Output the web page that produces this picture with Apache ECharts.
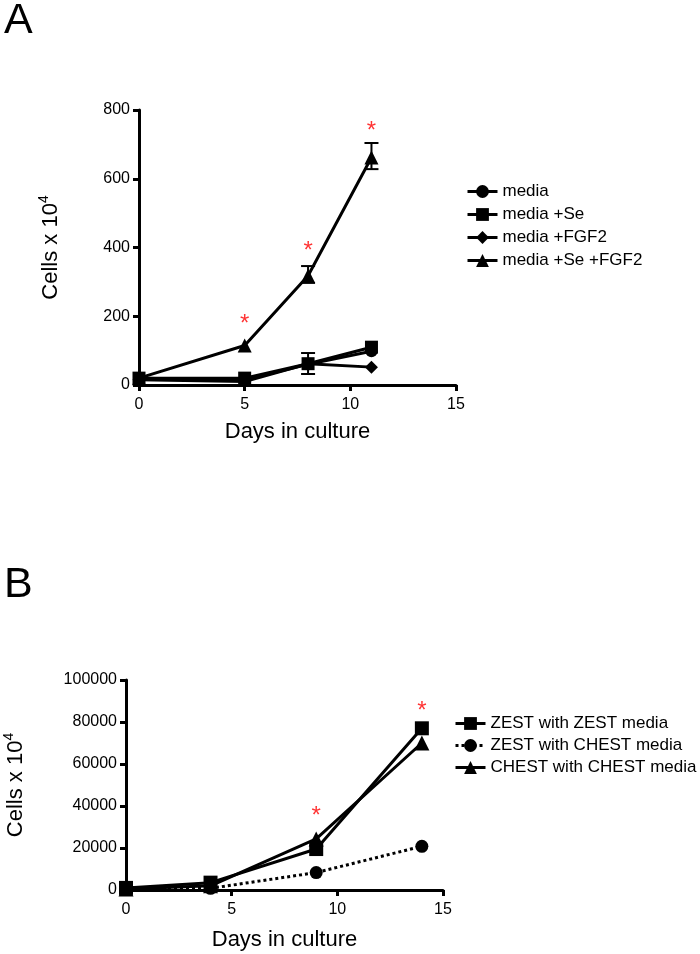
<!DOCTYPE html>
<html>
<head>
<meta charset="utf-8">
<script src="https://cdn.jsdelivr.net/npm/echarts@6/dist/echarts.min.js"></script>
<style>
  html, body { margin: 0; padding: 0; background: #fff; }
  #chart { width: 700px; height: 954px; }
</style>
</head>
<body>
<div id="chart"></div>
<script>
// panel A: days in culture, cells x 10^4
const daysA = [0, 5, 8, 11]
const media = [20, 15, 60, 98]
const mediaSe = [20, 20, 62, 110]
const mediaFgf = [15, 10, 62, 52]
const mediaSeFgf = [20, 115, 318, 662]
// error bars [day, low, high]
const errA = [[8, 297, 346], [11, 628, 704], [8, 32, 93]]
// significance stars [day, value]
const starsA = [[5, 195], [8, 407], [11, 756]]

// panel B
const daysB = [0, 4, 9, 14]
const zestZest = [1000, 3500, 19500, 77000]
const zestChest = [500, 800, 8300, 20800]
const chestChest = [500, 2000, 24300, 70000]
const starsB = [[9, 38000], [14, 88000]]

const namesA = ['media', 'media +Se', 'media +FGF2', 'media +Se +FGF2']
const namesB = ['ZEST with ZEST media', 'ZEST with CHEST media', 'CHEST with CHEST media']

const FONT = 'Liberation Sans, Arial, sans-serif'
const pair = (xs, ys) => xs.map((x, i) => [x, ys[i]])

const chart = echarts.init(document.getElementById('chart'))

function axisStyle() {
  return {
    axisLine: { show: true, lineStyle: { color: '#000', width: 3 } },
    axisTick: { show: true, length: 6, lineStyle: { color: '#000', width: 3 } },
    splitLine: { show: false }
  }
}

function lineSeries(name, data, symbol, size, idx, dotted) {
  return {
    name: name,
    type: 'line',
    xAxisIndex: idx,
    yAxisIndex: idx,
    data: data,
    symbol: symbol,
    symbolSize: size,
    showSymbol: true,
    color: '#000',
    itemStyle: { color: '#000' },
    lineStyle: { color: '#000', width: 3, type: dotted ? 'dotted' : 'solid' },
    animation: false
  }
}

function errSeries(data, idx) {
  return {
    type: 'custom',
    xAxisIndex: idx,
    yAxisIndex: idx,
    data: data,
    encode: { x: 0, y: [1, 2] },
    z: 1,
    renderItem: (params, api) => {
      const x = api.value(0)
      const lo = api.coord([x, api.value(1)])
      const hi = api.coord([x, api.value(2)])
      const w = 7
      const st = { stroke: '#000', lineWidth: 2 }
      return {
        type: 'group',
        children: [
          { type: 'line', shape: { x1: hi[0], y1: hi[1], x2: lo[0], y2: lo[1] }, style: st },
          { type: 'line', shape: { x1: hi[0] - w, y1: hi[1], x2: hi[0] + w, y2: hi[1] }, style: st },
          { type: 'line', shape: { x1: lo[0] - w, y1: lo[1], x2: lo[0] + w, y2: lo[1] }, style: st }
        ]
      }
    },
    animation: false
  }
}

function starSeries(data, idx) {
  return {
    type: 'scatter',
    xAxisIndex: idx,
    yAxisIndex: idx,
    data: data,
    symbolSize: 1,
    itemStyle: { color: 'rgba(0,0,0,0)' },
    label: {
      show: true,
      position: 'inside',
      formatter: '*',
      color: '#ff0000',
      fontSize: 24,
      fontFamily: FONT,
      offset: [0, 6]
    },
    silent: true,
    animation: false
  }
}

const yName = {
  nameLocation: 'middle',
  nameRotate: 90,
  nameTextStyle: {
    color: '#000',
    fontSize: 22,
    fontFamily: FONT,
    rich: {
      sup: { fontSize: 14, fontFamily: FONT, color: '#000', verticalAlign: 'top', lineHeight: 28 }
    }
  }
}

const legendBase = {
  orient: 'vertical',
  itemWidth: 30,
  itemHeight: 16,
  textStyle: { color: '#000', fontSize: 17, fontFamily: FONT },
  lineStyle: { width: 3 },
  selectedMode: false
}

const option = {
  backgroundColor: '#fff',
  textStyle: { fontFamily: FONT },
  graphic: [
    { type: 'text', left: 4, top: 0, style: { text: 'A', fontSize: 43, fontFamily: FONT, fill: '#000' } },
    { type: 'text', left: 4, top: 564, style: { text: 'B', fontSize: 43, fontFamily: FONT, fill: '#000' } }
  ],
  grid: [
    { left: 139, right: 244, top: 110, bottom: 569 },
    { left: 126, right: 257, top: 680, bottom: 64 }
  ],
  legend: [
    Object.assign({}, legendBase, { data: namesA, left: 461, top: 178, itemGap: 6 }),
    Object.assign({}, legendBase, { data: namesB, left: 449, top: 710, itemGap: 5 })
  ],
  xAxis: [
    Object.assign(axisStyle(), {
      gridIndex: 0, type: 'value', min: 0, max: 15, interval: 5,
      name: 'Days in culture', nameLocation: 'middle', nameGap: 36,
      nameTextStyle: { color: '#000', fontSize: 22, fontFamily: FONT },
      axisLabel: { color: '#000', fontSize: 16, margin: 12, fontFamily: FONT }
    }),
    Object.assign(axisStyle(), {
      gridIndex: 1, type: 'value', min: 0, max: 15, interval: 5,
      name: 'Days in culture', nameLocation: 'middle', nameGap: 39,
      nameTextStyle: { color: '#000', fontSize: 22, fontFamily: FONT },
      axisLabel: { color: '#000', fontSize: 16, margin: 12, fontFamily: FONT }
    })
  ],
  yAxis: [
    Object.assign(axisStyle(), yName, {
      gridIndex: 0, type: 'value', min: 0, max: 800, interval: 200,
      name: 'Cells x 10{sup|4}', nameGap: 74,
      axisLabel: { color: '#000', fontSize: 16, margin: 9, fontFamily: FONT }
    }),
    Object.assign(axisStyle(), yName, {
      gridIndex: 1, type: 'value', min: 0, max: 100000, interval: 20000,
      name: 'Cells x 10{sup|4}', nameGap: 96,
      axisLabel: { color: '#000', fontSize: 16, margin: 9, fontFamily: FONT, formatter: (v) => String(v) }
    })
  ],
  series: [
    errSeries(errA, 0),
    lineSeries(namesA[0], pair(daysA, media), 'circle', 12, 0),
    lineSeries(namesA[1], pair(daysA, mediaSe), 'rect', 13, 0),
    lineSeries(namesA[2], pair(daysA, mediaFgf), 'diamond', 13, 0),
    lineSeries(namesA[3], pair(daysA, mediaSeFgf), 'triangle', 14, 0),
    starSeries(starsA, 0),
    lineSeries(namesB[0], pair(daysB, zestZest), 'rect', 14, 1),
    lineSeries(namesB[1], pair(daysB, zestChest), 'circle', 13, 1, true),
    lineSeries(namesB[2], pair(daysB, chestChest), 'triangle', 15, 1),
    starSeries(starsB, 1)
  ]
}

chart.setOption(option)
</script>
</body>
</html>
